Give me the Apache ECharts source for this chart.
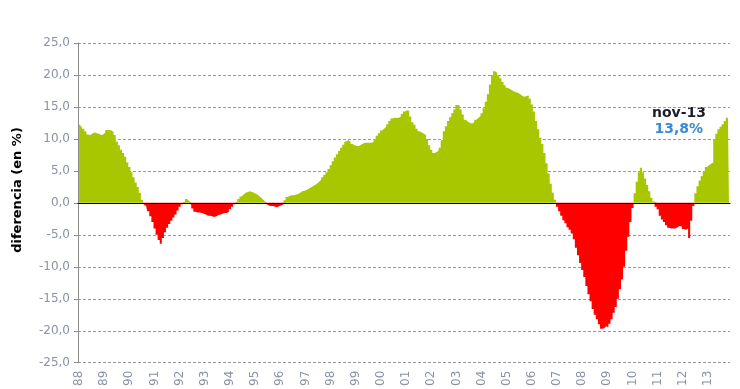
<!DOCTYPE html>
<html>
<head>
<meta charset="utf-8">
<title>diferencia (en %)</title>
<script src="https://cdn.jsdelivr.net/npm/echarts@6/dist/echarts.min.js"></script>
<style>
  html, body { margin: 0; padding: 0; background: #fff; }
  #chart { width: 740px; height: 389px; }
</style>
</head>
<body>
<div id="chart"></div>
<script>
// etiquetas
var years = ['88','89','90','91','92','93','94','95','96','97','98','99','00','01','02','03','04','05','06','07','08','09','10','11','12','13']
var monthNames = ['ene','feb','mar','abr','may','jun','jul','ago','sep','oct','nov','dic']
var yTicks = [-25, -20, -15, -10, -5, 0, 5, 10, 15, 20, 25]

// valores mensuales por año (%)
var v1988 = [12.3, 12.0, 11.6, 11.2, 10.7, 10.6, 10.9, 11.0, 10.9, 10.8, 10.6, 10.7]
var v1989 = [11.0, 11.4, 11.4, 11.3, 11.1, 10.6, 9.6, 9.0, 8.3, 7.8, 7.2, 6.3]
var v1990 = [5.6, 4.8, 4.0, 3.2, 2.5, 1.6, 0.5, -0.3, -0.5, -1.3, -2.1, -3.0]
var v1991 = [-4.0, -5.0, -5.8, -6.4, -5.5, -4.6, -3.9, -3.3, -2.8, -2.3, -1.8, -1.2]
var v1992 = [-0.6, -0.2, 0.2, 0.6, 0.3, -0.3, -0.9, -1.4, -1.5, -1.5, -1.6, -1.7]
var v1993 = [-1.8, -2.0, -2.0, -2.1, -2.2, -2.1, -1.9, -1.8, -1.7, -1.6, -1.6, -1.4]
var v1994 = [-1.0, -0.6, -0.2, 0.2, 0.6, 1.0, 1.3, 1.6, 1.7, 1.8, 1.7, 1.6]
var v1995 = [1.4, 1.2, 0.9, 0.6, 0.3, -0.2, -0.4, -0.5, -0.5, -0.6, -0.7, -0.5]
var v1996 = [-0.4, -0.2, 0.4, 0.9, 1.1, 1.2, 1.2, 1.3, 1.4, 1.6, 1.8, 1.9]
var v1997 = [2.0, 2.2, 2.4, 2.6, 2.8, 3.0, 3.3, 3.6, 4.0, 4.4, 4.8, 5.3]
var v1998 = [5.9, 6.5, 7.1, 7.6, 8.1, 8.6, 9.1, 9.6, 9.8, 9.6, 9.2, 9.0]
var v1999 = [8.9, 8.9, 9.1, 9.3, 9.4, 9.4, 9.4, 9.4, 9.5, 10.0, 10.5, 10.9]
var v2000 = [11.3, 11.6, 11.9, 12.3, 12.8, 13.2, 13.3, 13.3, 13.3, 13.5, 13.9, 14.3]
var v2001 = [14.5, 14.4, 13.5, 12.6, 12.2, 11.6, 11.2, 11.0, 10.8, 10.6, 10.0, 9.0]
var v2002 = [8.3, 7.8, 7.9, 8.2, 8.6, 9.8, 11.2, 12.0, 12.8, 13.4, 14.0, 14.6]
var v2003 = [15.3, 15.3, 14.6, 13.8, 13.0, 12.7, 12.5, 12.4, 12.6, 13.0, 13.3, 13.6]
var v2004 = [14.0, 14.8, 15.8, 17.0, 18.5, 20.0, 20.6, 20.3, 19.9, 19.5, 18.9, 18.4]
var v2005 = [18.0, 17.8, 17.6, 17.4, 17.3, 17.2, 17.0, 16.7, 16.6, 16.7, 16.8, 16.3]
var v2006 = [15.4, 14.3, 12.8, 11.5, 10.2, 9.2, 7.8, 6.2, 4.6, 3.0, 1.6, 0.5]
var v2007 = [-0.6, -1.3, -2.0, -2.7, -3.2, -3.8, -4.2, -4.8, -5.7, -7.0, -8.2, -9.4]
var v2008 = [-10.5, -11.6, -13.0, -14.3, -15.4, -16.6, -17.5, -18.2, -19.0, -19.7, -19.6, -19.3]
var v2009 = [-19.5, -18.9, -18.2, -17.2, -16.3, -15.0, -13.5, -12.0, -10.0, -7.5, -5.3, -3.0]
var v2010 = [-0.8, 1.5, 3.3, 4.8, 5.5, 4.8, 3.8, 2.8, 1.8, 0.8, 0.2, -0.6]
var v2011 = [-1.0, -2.0, -2.6, -3.0, -3.5, -3.9, -4.0, -4.0, -4.0, -3.8, -3.6, -3.7]
var v2012 = [-4.1, -4.2, -4.0, -5.5, -2.8, -0.5, 1.5, 2.6, 3.5, 4.2, 5.0, 5.6]
var v2013 = [5.9, 6.1, 6.3, 10.0, 10.8, 11.5, 11.9, 12.3, 12.8, 13.3, 13.8]

var values = [].concat(v1988, v1989, v1990, v1991, v1992, v1993, v1994, v1995, v1996,
  v1997, v1998, v1999, v2000, v2001, v2002, v2003, v2004, v2005, v2006, v2007,
  v2008, v2009, v2010, v2011, v2012, v2013)

// categorías "ene-88", "feb-88", ...
var categories = []
years.forEach(function (y) {
  monthNames.forEach(function (m) { categories.push(m + '-' + y) })
})
categories = categories.slice(0, values.length)

function fmt(v) {
  return v.toFixed(1).replace('.', ',')
}

var green = '#a8c700'
var red = '#ff0000'
var labelColor = '#8a92a6'
var lastLabel = categories[categories.length - 1]
var lastValue = values[values.length - 1]

// parte positiva y negativa por separado (cada una con su color)
var positive = values.map(function (v) { return Math.max(v, 0) })
var negative = values.map(function (v) { return Math.min(v, 0) })

var myChart = echarts.init(document.getElementById('chart'))

var option = {
  animation: false,
  grid: { left: 78, right: 10, top: 43, bottom: 26 },
  xAxis: [
    {
      // eje en el cero, solo línea y marcas por año
      type: 'category',
      data: categories,
      axisLine: { onZero: true, lineStyle: { color: '#000', width: 1 } },
      axisTick: {
        interval: function (i) { return i % 12 === 0 },
        length: 5,
        lineStyle: { color: '#000' }
      },
      axisLabel: { show: false },
      splitLine: { show: false },
      z: 5
    },
    {
      // etiquetas de años abajo
      type: 'category',
      data: categories,
      position: 'bottom',
      axisLine: { show: false, onZero: false },
      axisTick: { show: false },
      axisLabel: {
        interval: 11,
        rotate: 90,
        margin: 8,
        color: labelColor,
        fontFamily: 'DejaVu Sans',
        fontSize: 12,
        formatter: function (v) { return v.split('-')[1] }
      }
    }
  ],
  yAxis: {
    type: 'value',
    min: yTicks[0],
    max: yTicks[yTicks.length - 1],
    interval: 5,
    axisLine: { show: true, lineStyle: { color: '#8c8c8c' } },
    axisTick: { show: true, length: 4, lineStyle: { color: '#8c8c8c' } },
    axisLabel: {
      color: labelColor,
      fontFamily: 'DejaVu Sans',
      fontSize: 12,
      margin: 8,
      formatter: fmt
    },
    splitLine: { lineStyle: { color: '#9a9a9a', type: [3, 2], width: 1 } }
  },
  // columnas mensuales contiguas, dibujadas como área escalonada
  series: [
    { name: 'positivo', data: positive, color: green },
    { name: 'negativo', data: negative, color: red }
  ].map(function (s) {
    return {
      name: s.name,
      type: 'line',
      xAxisIndex: 0,
      data: s.data,
      step: 'middle',
      symbol: 'none',
      lineStyle: { width: 0, color: s.color },
      itemStyle: { color: s.color },
      areaStyle: { color: s.color, opacity: 1 },
      z: 2
    }
  }),
  graphic: [
    {
      type: 'text',
      x: 18,
      y: 190,
      rotation: Math.PI / 2,
      style: {
        text: 'diferencia (en %)',
        font: 'bold 13px "DejaVu Sans"',
        fill: '#000',
        align: 'center',
        verticalAlign: 'middle'
      }
    },
    {
      type: 'text',
      x: 706,
      y: 113,
      style: {
        text: lastLabel,
        font: 'bold 14px "DejaVu Sans"',
        fill: '#1c1c28',
        align: 'right',
        verticalAlign: 'middle'
      }
    },
    {
      type: 'text',
      x: 703,
      y: 129,
      style: {
        text: fmt(lastValue) + '%',
        font: 'bold 14px "DejaVu Sans"',
        fill: '#3a8ad6',
        align: 'right',
        verticalAlign: 'middle'
      }
    }
  ]
}

myChart.setOption(option)
</script>
</body>
</html>
